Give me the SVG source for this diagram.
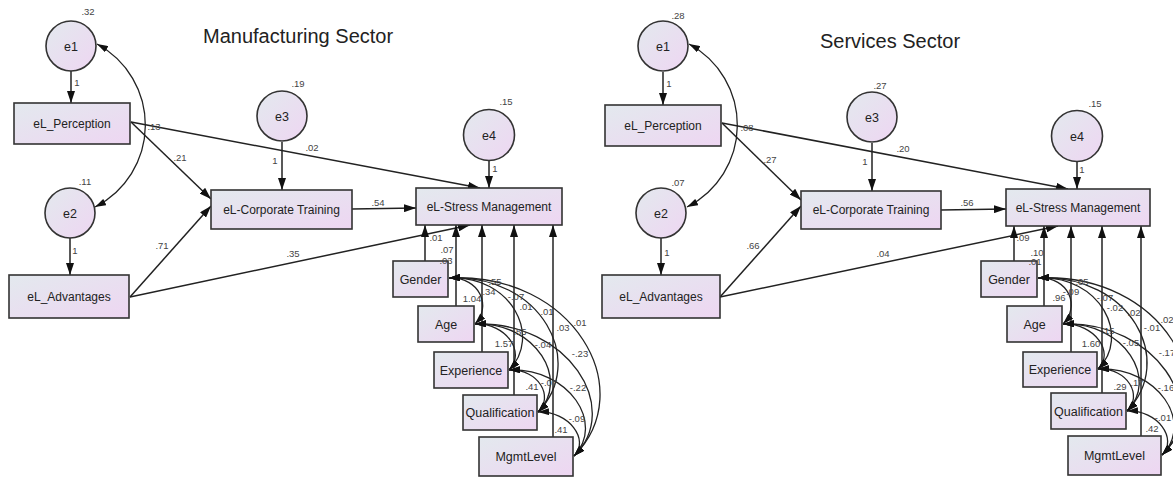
<svg xmlns="http://www.w3.org/2000/svg" width="1173" height="481" viewBox="0 0 1173 481">
<defs>
<linearGradient id="g" x1="0" y1="0" x2="1" y2="1">
<stop offset="0" stop-color="#e3e9ee"/>
<stop offset="1" stop-color="#eed6f2"/>
</linearGradient>
<marker id="ah" viewBox="0 0 12 8" refX="12" refY="4" markerWidth="12" markerHeight="8" markerUnits="userSpaceOnUse" orient="auto-start-reverse">
<path d="M0,0 L12,4 L0,8 z" fill="#111"/>
</marker>
<marker id="ah2" viewBox="0 0 11 7" refX="11" refY="3.5" markerWidth="11" markerHeight="7" markerUnits="userSpaceOnUse" orient="auto-start-reverse">
<path d="M0,0 L11,3.5 L0,7 z" fill="#111"/>
</marker>
</defs>
<style>
.bx{fill:url(#g);stroke:#333;stroke-width:1.6}
.ci{fill:url(#g);stroke:#333;stroke-width:1.6}
.nt{font-family:"Liberation Sans",Arial,sans-serif;font-size:12px;fill:#222;text-anchor:middle}
.ct{font-family:"Liberation Sans",Arial,sans-serif;font-size:12.5px;fill:#222;text-anchor:middle}
.lb{font-family:"Liberation Sans",Arial,sans-serif;font-size:9.5px;fill:#444;text-anchor:middle}
.ti{font-family:"Liberation Sans",Arial,sans-serif;font-size:20px;fill:#222}
.ar{fill:none;stroke:#222;stroke-width:1.5;marker-end:url(#ah)}
.cv{fill:none;stroke:#222;stroke-width:1.3;marker-start:url(#ah2);marker-end:url(#ah2)}
</style>
<rect width="1173" height="481" fill="#fff"/>
<text class="ti" x="203" y="42.5">Manufacturing Sector</text>
<text class="ti" x="820" y="48">Services Sector</text>

<g id="connectors">
<!-- left panel -->
<path class="cv" d="M97,44 A92,92 0 0 1 95,207"/>
<line class="ar" x1="71" y1="71" x2="71" y2="103"/>
<line class="ar" x1="70" y1="238" x2="70" y2="275"/>
<line class="ar" x1="282" y1="142" x2="282" y2="190"/>
<line class="ar" x1="489" y1="161" x2="489" y2="188"/>
<line class="ar" x1="131" y1="122" x2="211" y2="199"/>
<line class="ar" x1="130" y1="297" x2="211" y2="206"/>
<line class="ar" x1="131" y1="122" x2="480" y2="188"/>
<line class="ar" x1="130" y1="297" x2="470" y2="225"/>
<line class="ar" x1="352" y1="209" x2="416" y2="208"/>
<line class="ar" x1="425" y1="261" x2="425" y2="225"/>
<line class="ar" x1="456" y1="306" x2="456" y2="225"/>
<line class="ar" x1="482" y1="352" x2="482" y2="225"/>
<line class="ar" x1="514" y1="395" x2="514" y2="225"/>
<line class="ar" x1="553" y1="437" x2="553" y2="225"/>
<path class="cv" d="M449,278 C480.5,277 491.6,307 475,324"/>
<path class="cv" d="M449,278 C512,275 542,337 509,370"/>
<path class="cv" d="M449,278 C542,274 587,362 538,412"/>
<path class="cv" d="M449,278 C574,272 640,390 574,456"/>
<path class="cv" d="M475,324 C507,323 526,353 509,370"/>
<path class="cv" d="M475,324 C537,322 570,381 538,412"/>
<path class="cv" d="M475,324 C568,321 623,408 574,456"/>
<path class="cv" d="M509,370 C539,369 554,397 538,412"/>
<path class="cv" d="M509,370 C570,368 605,424 574,456"/>
<path class="cv" d="M538,412 C569,411 590,440 574,456"/>
<!-- right panel -->
<path class="cv" d="M689,44 A92,92 0 0 1 687,207"/>
<line class="ar" x1="663" y1="72" x2="663" y2="105"/>
<line class="ar" x1="661" y1="238" x2="661" y2="275"/>
<line class="ar" x1="872" y1="143" x2="872" y2="191"/>
<line class="ar" x1="1077" y1="161" x2="1077" y2="189"/>
<line class="ar" x1="722" y1="123" x2="801" y2="200"/>
<line class="ar" x1="720" y1="297" x2="801" y2="206"/>
<line class="ar" x1="722" y1="123" x2="1068" y2="189"/>
<line class="ar" x1="720" y1="297" x2="1058" y2="226"/>
<line class="ar" x1="941" y1="210" x2="1006" y2="209"/>
<line class="ar" x1="1014" y1="261" x2="1014" y2="226"/>
<line class="ar" x1="1044" y1="306" x2="1044" y2="226"/>
<line class="ar" x1="1071" y1="352" x2="1071" y2="226"/>
<line class="ar" x1="1102" y1="393" x2="1102" y2="226"/>
<line class="ar" x1="1141" y1="436" x2="1141" y2="226"/>
<path class="cv" d="M1038,278 C1070,277 1080,307 1063,324"/>
<path class="cv" d="M1038,278 C1101,275 1131,337 1098,369"/>
<path class="cv" d="M1038,278 C1131,274 1176,361 1127,411"/>
<path class="cv" d="M1038,278 C1163,272 1228,389 1162,455"/>
<path class="cv" d="M1063,324 C1095,323 1115,353 1098,369"/>
<path class="cv" d="M1063,324 C1125,322 1159,380 1127,411"/>
<path class="cv" d="M1063,324 C1156,321 1211,408 1162,455"/>
<path class="cv" d="M1098,369 C1128,368 1143,396 1127,411"/>
<path class="cv" d="M1098,369 C1159,367 1194,423 1162,455"/>
<path class="cv" d="M1127,411 C1158,410 1178,439 1162,455"/>
</g>

<!-- left nodes -->
<g id="L_e1"><circle class="ci" cx="71" cy="46" r="25"/><text class="ct" x="71" y="50.5">e1</text></g>
<g id="L_e2"><circle class="ci" cx="70" cy="213" r="25"/><text class="ct" x="70" y="217.5">e2</text></g>
<g id="L_e3"><circle class="ci" cx="282" cy="116" r="25"/><text class="ct" x="282" y="120.5">e3</text></g>
<g id="L_e4"><circle class="ci" cx="489" cy="135" r="25.5"/><text class="ct" x="489" y="139.5">e4</text></g>
<g id="L_perception"><rect class="bx" x="14" y="103" width="116" height="41"/><text class="nt" x="72" y="128">eL_Perception</text></g>
<g id="L_advantages"><rect class="bx" x="9" y="275" width="120" height="43"/><text class="nt" x="69" y="301">eL_Advantages</text></g>
<g id="L_training"><rect class="bx" x="211" y="190" width="141" height="39"/><text class="nt" x="281.5" y="213.5">eL-Corporate Training</text></g>
<g id="L_stress"><rect class="bx" x="416" y="188" width="146" height="37"/><text class="nt" x="489" y="210.5">eL-Stress Management</text></g>
<g id="L_gender"><rect class="bx" x="393" y="261" width="55" height="36"/><text class="ct" x="420.5" y="283.5">Gender</text></g>
<g id="L_age"><rect class="bx" x="418" y="306" width="56" height="36"/><text class="ct" x="446" y="328.5">Age</text></g>
<g id="L_experience"><rect class="bx" x="434" y="352" width="74" height="36"/><text class="ct" x="471" y="374.5">Experience</text></g>
<g id="L_qualification"><rect class="bx" x="463" y="395" width="74" height="35"/><text class="ct" x="500" y="417">Qualification</text></g>
<g id="L_mgmtlevel"><rect class="bx" x="479" y="437" width="94" height="39"/><text class="ct" x="526" y="461">MgmtLevel</text></g>

<!-- right nodes -->
<g id="R_e1"><circle class="ci" cx="663" cy="46" r="25"/><text class="ct" x="663" y="50.5">e1</text></g>
<g id="R_e2"><circle class="ci" cx="661" cy="213" r="25"/><text class="ct" x="661" y="217.5">e2</text></g>
<g id="R_e3"><circle class="ci" cx="872" cy="117" r="25"/><text class="ct" x="872" y="121.5">e3</text></g>
<g id="R_e4"><circle class="ci" cx="1077" cy="136" r="25.5"/><text class="ct" x="1077" y="140.5">e4</text></g>
<g id="R_perception"><rect class="bx" x="605" y="105" width="116" height="41"/><text class="nt" x="663" y="130">eL_Perception</text></g>
<g id="R_advantages"><rect class="bx" x="602" y="275" width="118" height="43"/><text class="nt" x="661" y="301">eL_Advantages</text></g>
<g id="R_training"><rect class="bx" x="801" y="191" width="140" height="38"/><text class="nt" x="871" y="214">eL-Corporate Training</text></g>
<g id="R_stress"><rect class="bx" x="1006" y="189" width="144" height="37"/><text class="nt" x="1078" y="211.5">eL-Stress Management</text></g>
<g id="R_gender"><rect class="bx" x="981" y="261" width="56" height="36"/><text class="ct" x="1009" y="283.5">Gender</text></g>
<g id="R_age"><rect class="bx" x="1007" y="306" width="55" height="36"/><text class="ct" x="1034.5" y="328.5">Age</text></g>
<g id="R_experience"><rect class="bx" x="1023" y="352" width="74" height="35"/><text class="ct" x="1060" y="374">Experience</text></g>
<g id="R_qualification"><rect class="bx" x="1051" y="393" width="75" height="36"/><text class="ct" x="1088.5" y="415.5">Qualification</text></g>
<g id="R_mgmtlevel"><rect class="bx" x="1068" y="436" width="93" height="39"/><text class="ct" x="1114.5" y="460">MgmtLevel</text></g>

<g id="labels">
<!-- left -->
<text class="lb" x="88" y="15">.32</text>
<text class="lb" x="77" y="85.5">1</text>
<text class="lb" x="85" y="185">.11</text>
<text class="lb" x="75" y="253.5">1</text>
<text class="lb" x="298" y="86.5">.19</text>
<text class="lb" x="275" y="163.5">1</text>
<text class="lb" x="154" y="129.5">.13</text>
<text class="lb" x="180" y="160.5">.21</text>
<text class="lb" x="312" y="150.5">.02</text>
<text class="lb" x="378" y="205.5">.54</text>
<text class="lb" x="162" y="248.5">.71</text>
<text class="lb" x="293" y="256.5">.35</text>
<text class="lb" x="506" y="104.5">.15</text>
<text class="lb" x="495" y="171.5">1</text>
<text class="lb" x="436" y="240.5">.01</text>
<text class="lb" x="447" y="252.5">.07</text>
<text class="lb" x="446" y="264">.03</text>
<text class="lb" x="472" y="302">1.04</text>
<text class="lb" x="495" y="285">.55</text>
<text class="lb" x="489" y="294.5">.34</text>
<text class="lb" x="516" y="300">-.07</text>
<text class="lb" x="526" y="309.5">.01</text>
<text class="lb" x="547" y="314.5">.01</text>
<text class="lb" x="563" y="330.5">.03</text>
<text class="lb" x="580" y="325.5">.01</text>
<text class="lb" x="520" y="334.5">.55</text>
<text class="lb" x="504" y="346.5">1.57</text>
<text class="lb" x="543" y="347.5">-.04</text>
<text class="lb" x="580" y="356.5">-.23</text>
<text class="lb" x="532" y="389.5">.41</text>
<text class="lb" x="549" y="386">-.07</text>
<text class="lb" x="578" y="391">-.22</text>
<text class="lb" x="577" y="421.5">-.09</text>
<text class="lb" x="561" y="432.5">.41</text>
<!-- right -->
<text class="lb" x="678" y="18.5">.28</text>
<text class="lb" x="669" y="86.5">1</text>
<text class="lb" x="678" y="185.5">.07</text>
<text class="lb" x="667" y="255.5">1</text>
<text class="lb" x="880" y="88.5">.27</text>
<text class="lb" x="865" y="164.5">1</text>
<text class="lb" x="747" y="130.5">.08</text>
<text class="lb" x="770" y="162.5">.27</text>
<text class="lb" x="903" y="151.5">.20</text>
<text class="lb" x="967" y="205.5">.56</text>
<text class="lb" x="753" y="248.5">.66</text>
<text class="lb" x="883" y="256.5">.04</text>
<text class="lb" x="1095" y="106.5">.15</text>
<text class="lb" x="1082" y="172.5">1</text>
<text class="lb" x="1023" y="240.5">.09</text>
<text class="lb" x="1037" y="255.5">.10</text>
<text class="lb" x="1035" y="264.5">.01</text>
<text class="lb" x="1059" y="301">.96</text>
<text class="lb" x="1071" y="294.5">-.09</text>
<text class="lb" x="1082" y="285">.05</text>
<text class="lb" x="1105" y="301">-.07</text>
<text class="lb" x="1115" y="310.5">-.02</text>
<text class="lb" x="1134" y="315.5">.02</text>
<text class="lb" x="1152" y="330.5">-.01</text>
<text class="lb" x="1167" y="323">.02</text>
<text class="lb" x="1108" y="334">.15</text>
<text class="lb" x="1091" y="346.5">1.60</text>
<text class="lb" x="1131" y="345.5">-.05</text>
<text class="lb" x="1167" y="355.5">-.17</text>
<text class="lb" x="1120" y="389.5">.29</text>
<text class="lb" x="1137" y="386">.17</text>
<text class="lb" x="1166" y="391">-.16</text>
<text class="lb" x="1163" y="420.5">-.01</text>
<text class="lb" x="1152" y="431.5">.42</text>
</g>
</svg>
